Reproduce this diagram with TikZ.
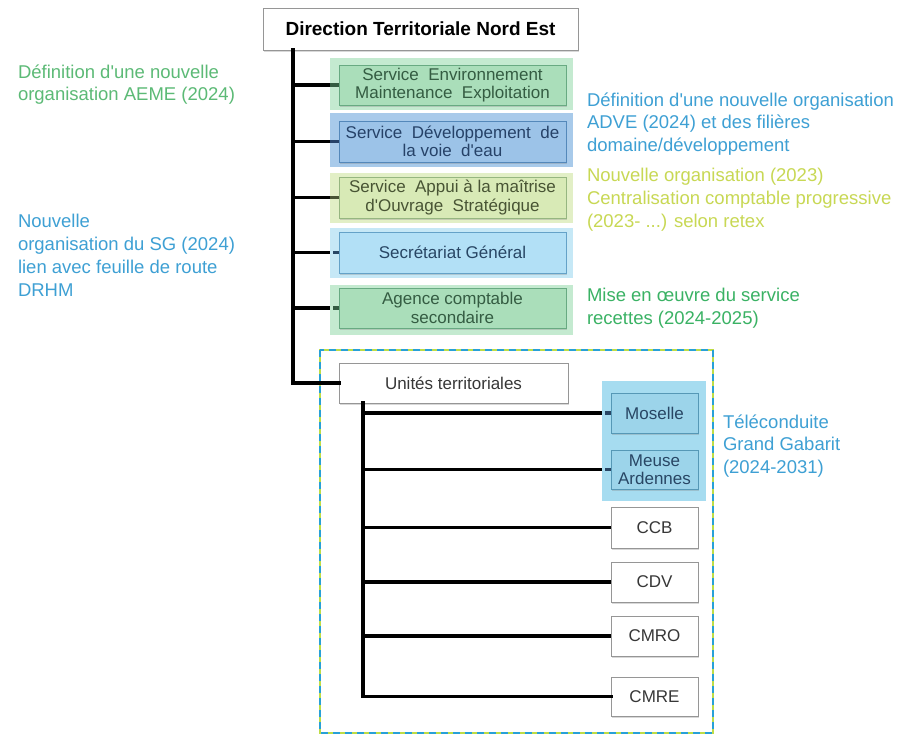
\documentclass[tikz,border=0pt]{standalone}
\usepackage{fontspec}
\setmainfont{Liberation Sans}
\usetikzlibrary{shadows}
\definecolor{bgA}{RGB}{196,234,208}
\definecolor{fillA}{RGB}{170,222,186}
\definecolor{drawA}{RGB}{104,170,130}
\definecolor{txtA}{RGB}{52,92,66}
\definecolor{bgB}{RGB}{168,202,234}
\definecolor{fillB}{RGB}{156,195,232}
\definecolor{drawB}{RGB}{84,136,186}
\definecolor{txtB}{RGB}{38,66,104}
\definecolor{bgC}{RGB}{226,239,198}
\definecolor{fillC}{RGB}{216,234,182}
\definecolor{drawC}{RGB}{150,182,128}
\definecolor{txtC}{RGB}{72,84,52}
\definecolor{bgD}{RGB}{198,232,246}
\definecolor{fillD}{RGB}{178,224,246}
\definecolor{drawD}{RGB}{100,162,200}
\definecolor{txtD}{RGB}{40,70,100}
\definecolor{bgM}{RGB}{166,220,240}
\definecolor{fillM}{RGB}{156,212,234}
\definecolor{drawM}{RGB}{86,152,182}
\definecolor{noteGreen}{RGB}{92,186,118}
\definecolor{noteBlue}{RGB}{62,160,212}
\definecolor{noteYellow}{RGB}{200,216,84}
\definecolor{noteGreenB}{RGB}{58,178,100}
\definecolor{frameY}{RGB}{190,220,70}
\definecolor{frameB}{RGB}{40,160,215}
\definecolor{boxGray}{RGB}{150,150,150}
\definecolor{txtGray}{RGB}{55,55,55}
\newcommand{\apo}{\textquotesingle}
\tikzset{
  orgbox/.style={draw, line width=1pt, inner sep=0pt, outer sep=0pt, align=center,
    font=\fontsize{17}{18.5}\selectfont,
    drop shadow={shadow xshift=1.2pt, shadow yshift=-1.6pt, opacity=0.3}},
  whitebox/.style={orgbox, fill=white, draw=boxGray, text=txtGray},
  band/.style={draw=none, inner sep=0pt, outer sep=0pt},
  note/.style={anchor=north west, inner sep=0pt, outer sep=0pt, align=left,
    font=\fontsize{18.5}{22.7}\selectfont},
  link/.style={line width=3.2pt, black},
}
\begin{document}
\begin{tikzpicture}[x=1pt,y=-1pt]
\useasboundingbox (0,0) rectangle (902,736);
\fill[white] (0,0) rectangle (902,736);

% background bands
\node[band, fill=bgA, minimum width=243pt, minimum height=52pt] (bg1) at (451.5,84) {};
\node[band, fill=bgB, minimum width=243pt, minimum height=54pt] (bg2) at (451.5,140) {};
\node[band, fill=bgC, minimum width=243pt, minimum height=50pt] (bg3) at (451.5,198) {};
\node[band, fill=bgD, minimum width=243pt, minimum height=50pt] (bg4) at (451.5,253) {};
\node[band, fill=bgA, minimum width=243pt, minimum height=50pt] (bg5) at (451.5,310) {};

% frame of territorial units
\node[draw=frameY, line width=2.6pt, inner sep=0pt, outer sep=0pt,
      minimum width=393pt, minimum height=383pt] (frame) at (516.5,541.5) {};
\draw[frameB, line width=1.6pt, dash pattern=on 7pt off 5pt]
  (frame.north west) rectangle (frame.south east);

\node[band, fill=bgM, minimum width=104pt, minimum height=120pt] (bgm) at (654,441) {};

% boxes
\node[whitebox, font=\fontsize{19}{20}\selectfont\bfseries, text=black,
      minimum width=315pt, minimum height=42pt] (dir) at (420.5,29) {Direction Territoriale Nord Est};
\node[orgbox, fill=fillA, draw=drawA, text=txtA, minimum width=227pt, minimum height=40pt]
  (box1) at (452.5,85) {Service\ \ Environnement\\Maintenance\ \ Exploitation};
\node[orgbox, fill=fillB, draw=drawB, text=txtB, minimum width=227pt, minimum height=41pt]
  (box2) at (452.5,141.5) {Service\ \ Développement\ \ de\\la voie\ \ d\apo eau};
\node[orgbox, fill=fillC, draw=drawC, text=txtC, minimum width=227pt, minimum height=41pt]
  (box3) at (452.5,197.5) {Service\ \ Appui à la maîtrise\\d\apo Ouvrage\ \ Stratégique};
\node[orgbox, fill=fillD, draw=drawD, text=txtD, minimum width=227pt, minimum height=41pt]
  (box4) at (452.5,252.5) {Secrétariat Général};
\node[orgbox, fill=fillA, draw=drawA, text=txtA, minimum width=227pt, minimum height=40pt]
  (box5) at (452.5,308) {Agence comptable\\secondaire};

\node[whitebox, minimum width=229pt, minimum height=40pt] (ut) at (453.5,383) {Unités territoriales};
\node[orgbox, fill=fillM, draw=drawM, text=txtD, minimum width=87pt, minimum height=40pt]
  (mos) at (654.5,413) {Moselle};
\node[orgbox, fill=fillM, draw=drawM, text=txtD, minimum width=87pt, minimum height=39pt]
  (meu) at (654.5,469.5) {Meuse\\Ardennes};
\node[whitebox, minimum width=87pt, minimum height=41pt] (ccb) at (654.5,527.5) {CCB};
\node[whitebox, minimum width=87pt, minimum height=40pt] (cdv) at (654.5,582) {CDV};
\node[whitebox, minimum width=87pt, minimum height=40pt] (cmro) at (654.5,636) {CMRO};
\node[whitebox, minimum width=87pt, minimum height=39pt] (cmre) at (654.5,696.5) {CMRE};

% connectors: main trunk
\coordinate (tt) at (293,50);
\coordinate (tb) at (293,383);
\draw[link, line cap=rect] (tt) -- (tb) -- (ut.west);
\draw[link] (tt |- box1) -- (bg1.west |- box1);
\draw[link, txtA] (bg1.west |- box1) -- (box1.west);
\draw[link] (tt |- box2) -- (bg2.west |- box2);
\draw[link, txtB] (bg2.west |- box2) -- (box2.west);
\draw[link] (tt |- box3) -- (bg3.west |- box3);
\draw[link, txtC] (bg3.west |- box3) -- (box3.west);
\draw[link] (tt |- box4) -- (bg4.west |- box4);
\draw[link, txtD] ([xshift=3pt]bg4.west |- box4) -- (box4.west);
\draw[link] (tt |- box5) -- (bg5.west |- box5);
\draw[link, txtA] ([xshift=3pt]bg5.west |- box5) -- (box5.west);

% connectors: territorial units
\coordinate (st) at (363,403);
\draw[link, line cap=rect] (st) -- (st |- cmre) -- (cmre.west);
\draw[link] (st |- mos) -- (bgm.west |- mos);
\draw[link, txtD] ([xshift=3pt]bgm.west |- mos) -- (mos.west);
\draw[link] (st |- meu) -- (bgm.west |- meu);
\draw[link, txtD] ([xshift=3pt]bgm.west |- meu) -- (meu.west);
\draw[link] (st |- ccb) -- (ccb.west);
\draw[link] (st |- cdv) -- (cdv.west);
\draw[link] (st |- cmro) -- (cmro.west);

% annotations
\node[note, text=noteGreen] (n1) at (18,64.5) {Définition d\apo une nouvelle\\organisation AEME (2024)};
\node[note, text=noteBlue] (n2) at (18,214.5) {Nouvelle\\organisation du SG (2024)\\lien avec feuille de route\\DRHM};
\node[note, text=noteBlue] (n3) at (587,92.5) {Définition d\apo une nouvelle organisation\\ADVE (2024) et des filières\\domaine/développement};
\node[note, text=noteYellow] (n4) at (587,168.5) {Nouvelle organisation (2023)\\Centralisation comptable progressive\\(2023- ...) selon retex};
\node[note, text=noteGreenB] (n5) at (587,288.5) {Mise en œuvre du service\\recettes (2024-2025)};
\node[note, text=noteBlue] (n6) at (723,414.5) {Téléconduite\\Grand Gabarit\\(2024-2031)};
\end{tikzpicture}
\end{document}
